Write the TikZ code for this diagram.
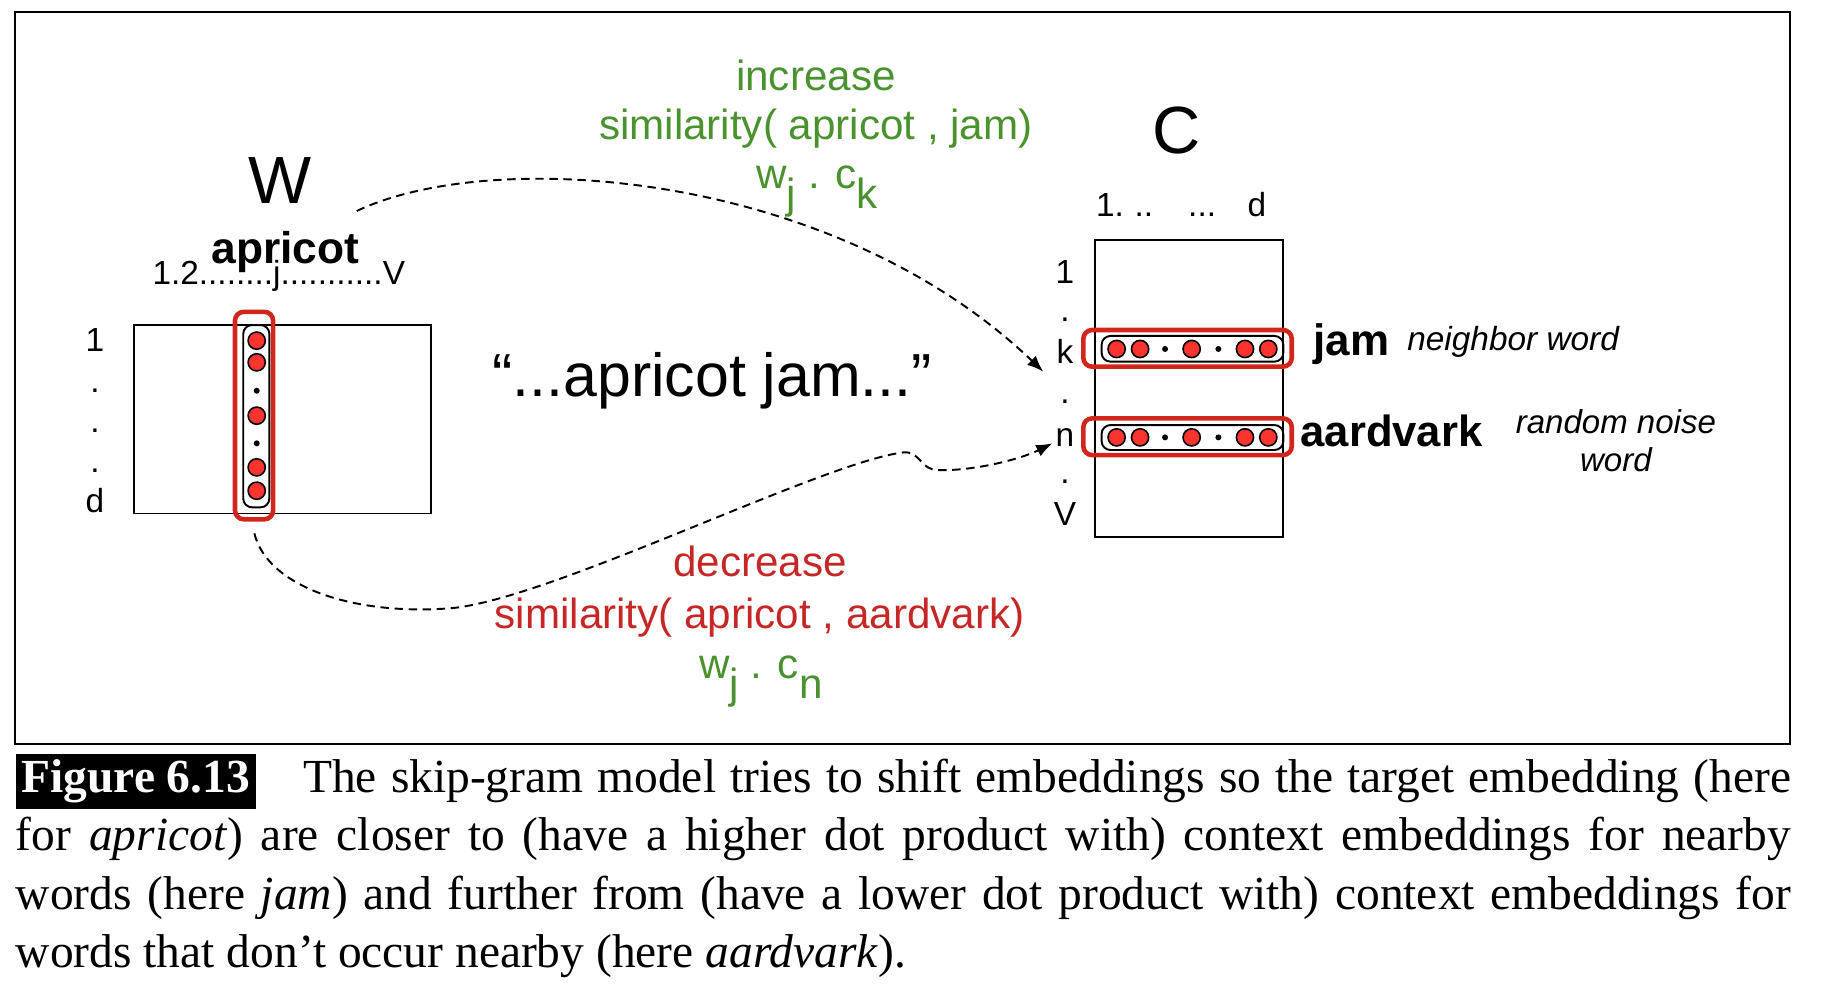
\documentclass[tikz,border=0pt]{standalone}
\usepackage{fontspec}
\setmainfont{Liberation Sans}
\newfontfamily\capserif{Liberation Serif}
\usepackage{xcolor}
\usetikzlibrary{arrows.meta}
\definecolor{simGreen}{RGB}{74,146,46}
\definecolor{simRed}{RGB}{198,38,38}
\definecolor{frameRed}{RGB}{208,38,28}
\definecolor{beadRed}{RGB}{252,52,48}

\begin{document}
\begin{tikzpicture}[x=0.01172cm,y=-0.01172cm,
  bead/.style={circle,draw=black,fill=beadRed,line width=.45pt,minimum size=4.9pt,inner sep=0pt},
  pip/.style={circle,fill=black,minimum size=1.7pt,inner sep=0pt},
  redframe/.style={draw=frameRed,line width=1.3pt,rounded corners=2.5pt},
  vecframe/.style={draw=black,line width=.55pt,rounded corners=2.5pt},
  idx/.style={font=\fontsize{9.5}{11}\selectfont,inner sep=0pt,anchor=base},
  simtext/.style={font=\fontsize{12}{14}\selectfont,inner sep=0pt,anchor=base},
  link/.style={line width=.55pt,dash pattern=on 2.4pt off 1.6pt,-{Latex[length=4.6pt,width=3.6pt]}}]
\useasboundingbox (0,0) rectangle (1568,845);
\draw[line width=.6pt] (13,10) rectangle (1527,635);

\draw[line width=.5pt] (114,277) rectangle (368,438);
\draw[redframe] (200.5,266) rectangle (233,443);
\draw[vecframe] (207.5,277.3) rectangle (229.8,432.8);
\foreach \y [count=\i] in {290.6,309.1,354.6,398.7,418.6} \node[bead] (wbead\i) at (219,\y) {};
\foreach \y [count=\i] in {333.3,378.2} \node[pip] (wpip\i) at (219,\y) {};
\node[font=\fontsize{19}{22}\selectfont,inner sep=0pt,anchor=base] (wname) at (239,174) {W};
\node[font=\bfseries\fontsize{12.6}{14}\selectfont,inner sep=0pt,anchor=base] (wword) at (243.6,224.7) {apricot};
\node[idx,anchor=base west] (wcols) at (129.5,242.3) {1.2........j...........V};
\foreach \t/\y [count=\i] in {1/300,./334.5,./368.7,./403,d/437.2} \node[idx] (wrow\i) at (81,\y) {\t};

\draw[line width=.5pt] (934.2,204.7) rectangle (1094.8,458.4);
\draw[redframe] (924.2,281.5) rectangle (1102,312.8);
\draw[vecframe] (939.8,286.6) rectangle (1094.8,308.5);
\draw[redframe] (924.2,356.9) rectangle (1102,388.2);
\draw[vecframe] (939.8,362.6) rectangle (1094.8,383.9);
\foreach \x [count=\i] in {952.6,972.6,1016.6,1062.1,1082} {
  \node[bead] (kbead\i) at (\x,297.7) {};
  \node[bead] (nbead\i) at (\x,373.1) {};
}
\foreach \x [count=\i] in {993.9,1039.4} {
  \node[pip] (kpip\i) at (\x,297.7) {};
  \node[pip] (npip\i) at (\x,373.1) {};
}
\node[font=\fontsize{19}{22}\selectfont,inner sep=0pt,anchor=base] (cname) at (1003.5,131) {C};
\node[idx,anchor=base west] (ccols) at (934.5,184.8) {1.\hspace{3pt}..\hspace{10pt}...\hspace{9pt}d};
\foreach \t/\y [count=\i] in {1/241.7,./274.5,k/310,./344,n/381,./412.5,V/447.9} \node[idx] (crow\i) at (908.5,\y) {\t};

\node[font=\bfseries\fontsize{12.5}{14}\selectfont,inner sep=0pt,anchor=base west] (jamword) at (1120,302.9) {jam};
\node[font=\itshape\fontsize{9.5}{11}\selectfont,inner sep=0pt,anchor=base west] (jamnote) at (1200,298.6) {neighbor word};
\node[font=\bfseries\fontsize{12.4}{14}\selectfont,inner sep=0pt,anchor=base west] (aardword) at (1109,381) {aardvark};
\node[font=\itshape\fontsize{9.4}{11}\selectfont,inner sep=0pt,align=center,anchor=base] (aardnote) at (1378.5,402.4) {random noise\\word};

\node[font=\fontsize{17.3}{20}\selectfont,inner sep=0pt,anchor=base] (phrase) at (607.5,338.2) {“...apricot jam...”};

\node[simtext,text=simGreen] (upword) at (696,76.8) {increase};
\node[simtext,text=simGreen] (upsim) at (696,119.4) {similarity( apricot , jam)};
\node[simtext,text=simGreen] (updot) at (697,160.7) {w\raisebox{-5.7pt}{j} . c\raisebox{-5.7pt}{k}};
\node[simtext,text=simRed] (downword) at (648.5,492) {decrease};
\node[simtext,text=simRed] (downsim) at (648,536) {similarity( apricot , aardvark)};
\node[simtext,text=simGreen] (downdot) at (649,578.7) {w\raisebox{-5.7pt}{j} . c\raisebox{-5.7pt}{n}};

\coordinate (pullfrom) at (304.3,180);
\coordinate (pullto) at (890,317);
\draw[link] (pullfrom) .. controls (420,125) and (710,145) .. (pullto);
\coordinate (pushfrom) at (217,455);
\coordinate (pushto) at (897.8,378.2);
\draw[link] (pushfrom) .. controls (228,500) and (300,525) .. (383,519) .. controls (466,513) and (700,395) .. (770,386) .. controls (785,384) and (785,401) .. (800,401) .. controls (830,402) and (870,392) .. (pushto);

\node[anchor=base west,inner sep=0pt,text width=504.9pt,align=justify,font=\capserif\fontsize{13.5}{16.6}\selectfont] (caption) at (13,676) {{\setlength{\fboxsep}{1.6pt}\colorbox{black}{\textcolor{white}{\bfseries Figure 6.13}}}\hspace{1em}The skip-gram model tries to shift embeddings so the target embedding (here\linebreak for \emph{apricot}) are closer to (have a higher dot product with) context embeddings for nearby\linebreak words (here \emph{jam}) and further from (have a lower dot product with) context embeddings for\linebreak words that don’t occur nearby (here \emph{aardvark}).};
\end{tikzpicture}
\end{document}
